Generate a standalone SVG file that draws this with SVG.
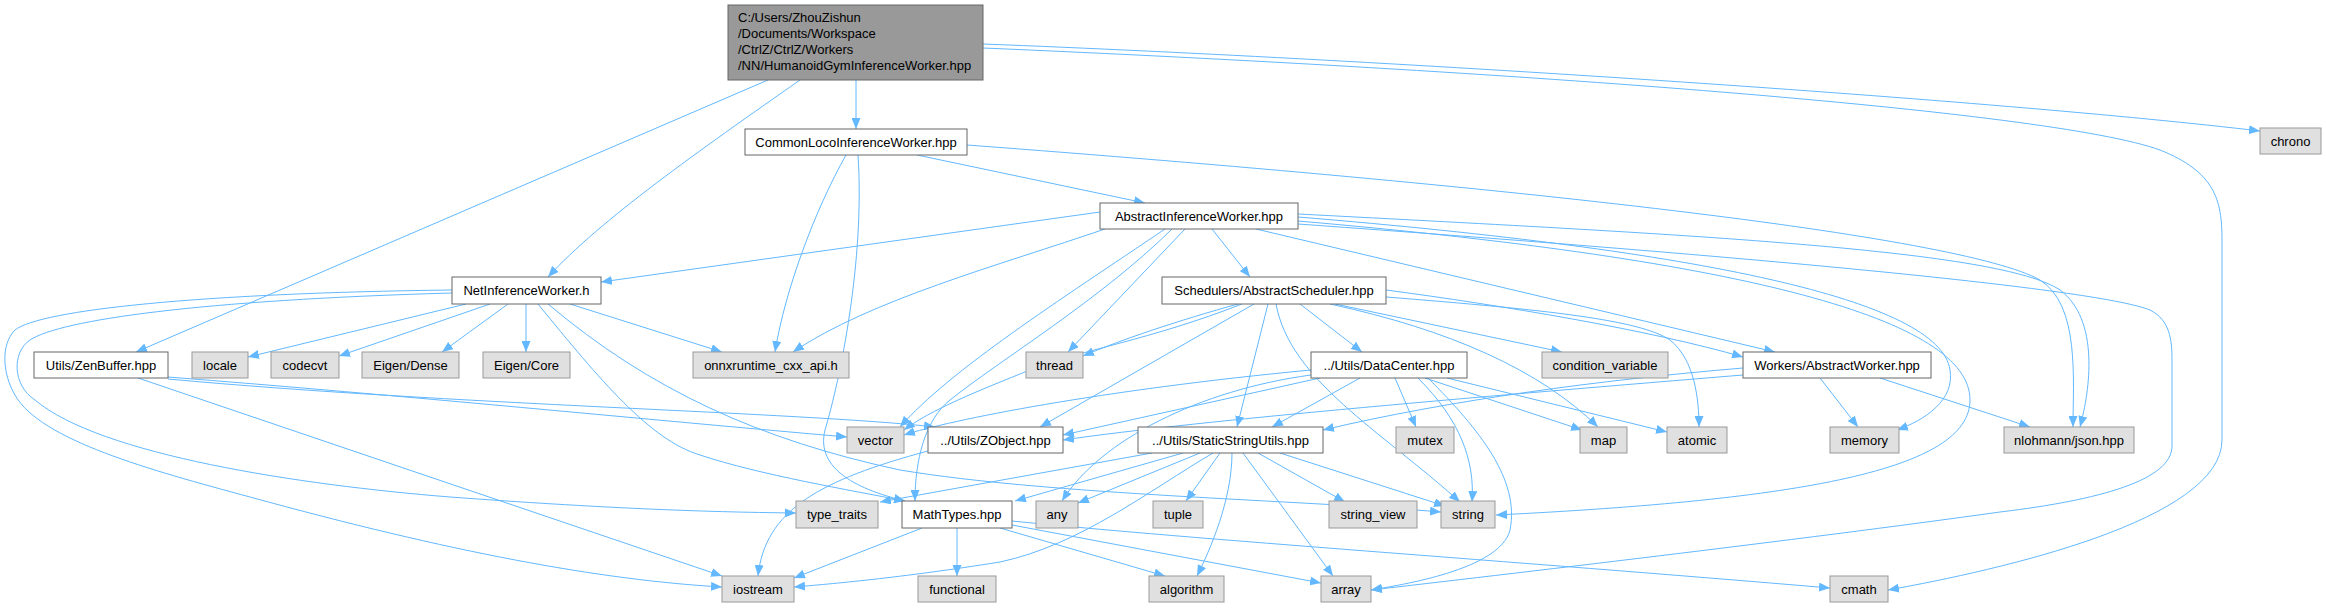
<svg xmlns="http://www.w3.org/2000/svg" width="2326" height="608" viewBox="0 0 2326 608">
<defs>
<marker id="a" markerWidth="11" markerHeight="9" refX="11" refY="4.5" orient="auto" markerUnits="userSpaceOnUse"><path d="M0,0 L11,4.5 L0,9 z" fill="#63B8FF"/></marker>
<style>
.e{fill:none;stroke:#63B8FF;stroke-width:1;marker-end:url(#a)}
.n rect{fill:#FFFFFF;stroke:#666666;stroke-width:1}
.x rect{fill:#E0E0E0;stroke:#999999;stroke-width:1}
.r rect{fill:#999999;stroke:#666666;stroke-width:1}
text{font-family:"Liberation Sans",Arial,sans-serif;font-size:13px;fill:#000000}
.c{text-anchor:middle}
</style>
</defs>
<rect width="2326" height="608" fill="#FFFFFF"/>
<g id="edges">
<path class="e" d="M856,80 L856,129"/>
<path class="e" d="M800,80 C700,150 600,220 548,277"/>
<path class="e" d="M768,80 L136,352"/>
<path class="e" d="M983,44 C1400,60 2000,100 2260,131"/>
<path class="e" d="M983,48 C1500,70 2050,110 2160,150 C2215,172 2222,200 2222,240 L2222,440 C2222,520 2000,570 1888,590"/>
<path class="e" d="M917,155 L1145,203"/>
<path class="e" d="M846,155 C815,210 785,290 775,352"/>
<path class="e" d="M858,155 C865,260 840,380 825,430 C815,470 860,490 905,501"/>
<path class="e" d="M967,145 C1500,185 1960,235 2040,280 C2080,305 2073,380 2073,427"/>
<path class="e" d="M1100,212 L601,282"/>
<path class="e" d="M1105,229 C1000,265 870,300 793,352"/>
<path class="e" d="M1185,229 L1068,352"/>
<path class="e" d="M1165,229 C1060,300 950,370 900,427"/>
<path class="e" d="M1172,229 C1100,300 1000,360 950,400 C925,420 915,460 915,501"/>
<path class="e" d="M1212,229 L1250,277"/>
<path class="e" d="M1256,229 L1775,352"/>
<path class="e" d="M1298,217 C1700,250 1940,300 1950,370 C1955,400 1925,420 1897,430"/>
<path class="e" d="M1298,214 C1700,235 2000,250 2060,290 C2100,320 2090,390 2080,427"/>
<path class="e" d="M1298,221 C1750,260 1970,320 1970,400 C1970,470 1800,500 1496,515"/>
<path class="e" d="M1298,224 C1800,260 2100,290 2150,310 C2170,320 2172,340 2172,360 L2172,446 C2172,480 2100,500 2000,512 C1800,540 1500,575 1371,590"/>
<path class="e" d="M1238,304 C1180,320 1120,340 1083,356"/>
<path class="e" d="M1242,304 C1150,340 1080,350 1030,370 C980,390 930,410 904,430"/>
<path class="e" d="M1254,304 L1040,427"/>
<path class="e" d="M1268,304 L1237,427"/>
<path class="e" d="M1276,304 C1290,380 1380,430 1460,502"/>
<path class="e" d="M1300,304 L1362,352"/>
<path class="e" d="M1335,304 L1562,352"/>
<path class="e" d="M1330,304 C1450,330 1540,370 1598,427"/>
<path class="e" d="M1386,290 C1500,305 1650,330 1743,357"/>
<path class="e" d="M1386,297 C1550,310 1640,320 1670,340 C1695,360 1699,400 1699,427"/>
<path class="e" d="M1311,370 C1100,390 950,420 904,435"/>
<path class="e" d="M1320,378 L1063,435"/>
<path class="e" d="M1311,375 C1200,390 1100,440 1062,501"/>
<path class="e" d="M1360,378 L1272,427"/>
<path class="e" d="M1395,378 L1416,427"/>
<path class="e" d="M1418,378 C1460,420 1475,460 1472,502"/>
<path class="e" d="M1428,378 C1480,430 1520,480 1510,530 C1500,570 1400,585 1371,590"/>
<path class="e" d="M1425,378 L1582,430"/>
<path class="e" d="M1447,378 L1667,432"/>
<path class="e" d="M1743,375 C1500,395 1200,420 1063,440"/>
<path class="e" d="M1743,368 C1600,380 1450,400 1323,430"/>
<path class="e" d="M1820,378 L1858,427"/>
<path class="e" d="M1880,378 L2030,427"/>
<path class="e" d="M928,451 C820,480 765,510 758,576"/>
<path class="e" d="M1152,453 L880,502"/>
<path class="e" d="M1183,453 L1015,501"/>
<path class="e" d="M1200,453 L1078,503"/>
<path class="e" d="M1220,453 L1186,501"/>
<path class="e" d="M1232,453 C1232,500 1210,550 1197,576"/>
<path class="e" d="M1243,453 L1333,576"/>
<path class="e" d="M1258,453 L1345,502"/>
<path class="e" d="M1280,453 L1445,506"/>
<path class="e" d="M1213,453 C1150,490 1080,545 1000,562 C900,578 830,584 794,587"/>
<path class="e" d="M922,528 L794,578"/>
<path class="e" d="M957,528 L957,576"/>
<path class="e" d="M1000,528 L1165,576"/>
<path class="e" d="M1012,525 L1321,583"/>
<path class="e" d="M1012,521 C1200,540 1500,560 1830,588"/>
<path class="e" d="M466,304 L248,357"/>
<path class="e" d="M490,304 L339,356"/>
<path class="e" d="M508,304 L442,352"/>
<path class="e" d="M526,304 L526,352"/>
<path class="e" d="M570,304 L722,352"/>
<path class="e" d="M538,304 C600,380 650,440 700,455 C760,475 850,490 905,501"/>
<path class="e" d="M548,304 C650,390 760,440 900,470 C1050,495 1300,500 1441,512"/>
<path class="e" d="M452,293 C200,300 60,320 30,340 C12,352 12,385 35,400 C100,455 300,485 450,497 C600,508 700,512 796,513"/>
<path class="e" d="M452,290 C200,293 40,310 15,330 C0,345 3,375 15,395 C40,440 150,470 250,497 C450,552 600,580 722,587"/>
<path class="e" d="M138,378 L722,576"/>
<path class="e" d="M168,377 C400,395 650,420 847,437"/>
<path class="e" d="M168,379 C450,405 800,412 935,427"/>
</g>
<g id="root" class="r"><rect x="728" y="5" width="255" height="75"/>
<text x="738" y="22">C:/Users/ZhouZishun</text><text x="738" y="38">/Documents/Workspace</text><text x="738" y="54">/CtrlZ/CtrlZ/Workers</text><text x="738" y="70">/NN/HumanoidGymInferenceWorker.hpp</text></g>
<g id="n_commonloco" class="n"><rect x="745" y="129" width="222" height="26"/><text class="c" x="856" y="146.5">CommonLocoInferenceWorker.hpp</text></g>
<g id="n_chrono" class="x"><rect x="2260" y="128" width="61" height="26"/><text class="c" x="2290.5" y="145.5">chrono</text></g>
<g id="n_aiw" class="n"><rect x="1100" y="203" width="198" height="26"/><text class="c" x="1199" y="220.5">AbstractInferenceWorker.hpp</text></g>
<g id="n_net" class="n"><rect x="452" y="277" width="149" height="27"/><text class="c" x="526.5" y="295">NetInferenceWorker.h</text></g>
<g id="n_sched" class="n"><rect x="1162" y="277" width="224" height="27"/><text class="c" x="1274" y="295">Schedulers/AbstractScheduler.hpp</text></g>
<g id="n_zen" class="n"><rect x="34" y="352" width="134" height="26"/><text class="c" x="101" y="369.5">Utils/ZenBuffer.hpp</text></g>
<g id="n_locale" class="x"><rect x="192" y="352" width="56" height="26"/><text class="c" x="220" y="369.5">locale</text></g>
<g id="n_codecvt" class="x"><rect x="271" y="352" width="68" height="26"/><text class="c" x="305" y="369.5">codecvt</text></g>
<g id="n_dense" class="x"><rect x="362" y="352" width="97" height="26"/><text class="c" x="410.5" y="369.5">Eigen/Dense</text></g>
<g id="n_core" class="x"><rect x="483" y="352" width="87" height="26"/><text class="c" x="526.5" y="369.5">Eigen/Core</text></g>
<g id="n_onnx" class="x"><rect x="693" y="352" width="156" height="26"/><text class="c" x="771" y="369.5">onnxruntime_cxx_api.h</text></g>
<g id="n_thread" class="x"><rect x="1026" y="352" width="57" height="26"/><text class="c" x="1054.5" y="369.5">thread</text></g>
<g id="n_datacenter" class="n"><rect x="1311" y="352" width="156" height="26"/><text class="c" x="1389" y="369.5">../Utils/DataCenter.hpp</text></g>
<g id="n_condvar" class="x"><rect x="1542" y="352" width="126" height="26"/><text class="c" x="1605" y="369.5">condition_variable</text></g>
<g id="n_worker" class="n"><rect x="1743" y="352" width="188" height="26"/><text class="c" x="1837" y="369.5">Workers/AbstractWorker.hpp</text></g>
<g id="n_vector" class="x"><rect x="847" y="427" width="57" height="26"/><text class="c" x="875.5" y="444.5">vector</text></g>
<g id="n_zobject" class="n"><rect x="928" y="427" width="135" height="26"/><text class="c" x="995.5" y="444.5">../Utils/ZObject.hpp</text></g>
<g id="n_ssu" class="n"><rect x="1138" y="427" width="185" height="26"/><text class="c" x="1230.5" y="444.5">../Utils/StaticStringUtils.hpp</text></g>
<g id="n_mutex" class="x"><rect x="1396" y="427" width="58" height="26"/><text class="c" x="1425" y="444.5">mutex</text></g>
<g id="n_map" class="x"><rect x="1580" y="427" width="47" height="26"/><text class="c" x="1603.5" y="444.5">map</text></g>
<g id="n_atomic" class="x"><rect x="1667" y="427" width="60" height="26"/><text class="c" x="1697" y="444.5">atomic</text></g>
<g id="n_memory" class="x"><rect x="1830" y="427" width="69" height="26"/><text class="c" x="1864.5" y="444.5">memory</text></g>
<g id="n_json" class="x"><rect x="2004" y="427" width="130" height="26"/><text class="c" x="2069" y="444.5">nlohmann/json.hpp</text></g>
<g id="n_typetraits" class="x"><rect x="796" y="501" width="82" height="27"/><text class="c" x="837" y="519">type_traits</text></g>
<g id="n_mathtypes" class="n"><rect x="902" y="501" width="110" height="27"/><text class="c" x="957" y="519">MathTypes.hpp</text></g>
<g id="n_any" class="x"><rect x="1036" y="501" width="42" height="27"/><text class="c" x="1057" y="519">any</text></g>
<g id="n_tuple" class="x"><rect x="1153" y="501" width="50" height="27"/><text class="c" x="1178" y="519">tuple</text></g>
<g id="n_stringview" class="x"><rect x="1329" y="501" width="88" height="27"/><text class="c" x="1373" y="519">string_view</text></g>
<g id="n_string" class="x"><rect x="1441" y="501" width="54" height="27"/><text class="c" x="1468" y="519">string</text></g>
<g id="n_iostream" class="x"><rect x="722" y="576" width="72" height="26"/><text class="c" x="758" y="593.5">iostream</text></g>
<g id="n_functional" class="x"><rect x="918" y="576" width="78" height="26"/><text class="c" x="957" y="593.5">functional</text></g>
<g id="n_algorithm" class="x"><rect x="1149" y="576" width="75" height="26"/><text class="c" x="1186.5" y="593.5">algorithm</text></g>
<g id="n_array" class="x"><rect x="1321" y="576" width="50" height="26"/><text class="c" x="1346" y="593.5">array</text></g>
<g id="n_cmath" class="x"><rect x="1830" y="576" width="58" height="26"/><text class="c" x="1859" y="593.5">cmath</text></g>
</svg>
